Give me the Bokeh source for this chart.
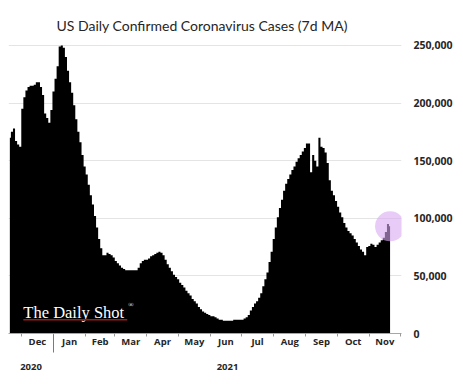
import pandas as pd
from bokeh.plotting import figure
from bokeh.models import (FixedTicker, LinearAxis, NumeralTickFormatter, Label,
                          BoxAnnotation, Range1d, ColumnDataSource)
from bokeh.embed import file_html
from bokeh.resources import INLINE

# ---- data (7-day MA of US daily confirmed cases, thousands, every 2 days) ----
start_date = "2020-11-20"
cases_k = [
    170, 175, 178, 167, 164, 162, 195, 205, 211, 214, 215, 215, 216, 218, 218, 214,
    207, 191, 187, 183, 194, 210, 221, 232, 249, 250, 248, 240, 228, 218, 209, 198,
    186, 175, 166, 155, 145, 138, 129, 120, 112, 102, 92, 82, 74, 68, 68, 70,
    69, 68, 66, 63, 61, 59, 57, 56, 55, 55, 55, 55, 55, 55, 57, 61,
    63, 64, 64, 65, 67, 68, 69, 70, 71, 70, 68, 64, 60, 57, 54, 51,
    49, 47, 44, 42, 40, 37, 35, 33, 30, 28, 26, 23, 21, 19, 18, 17,
    16, 15, 15, 14, 13, 12, 12, 11, 11, 11, 11, 11, 12, 12, 12, 12,
    12, 13, 14, 16, 20, 23, 26, 28, 31, 35, 41, 47, 53, 62, 71, 82,
    92, 101, 109, 116, 124, 130, 134, 138, 142, 145, 149, 152, 155, 158, 161, 165,
    165, 140, 155, 150, 145, 170, 162, 161, 157, 148, 133, 124, 120, 115, 110, 105,
    101, 96, 92, 89, 87, 85, 82, 79, 76, 73, 71, 68, 75, 76, 78, 77,
    75, 77, 79, 81, 83, 88, 95, 93,
]
month_starts = ["2020-12-01", "2021-01-01", "2021-02-01", "2021-03-01", "2021-04-01",
                "2021-05-01", "2021-06-01", "2021-07-01", "2021-08-01", "2021-09-01",
                "2021-10-01", "2021-11-01", "2021-12-01"]
month_labels = ["Dec", "Jan", "Feb", "Mar", "Apr", "May", "Jun", "Jul", "Aug",
                "Sep", "Oct", "Nov"]
year_labels = ["2020", "2021"]
y_ticks = [0, 50000, 100000, 150000, 200000, 250000]
title_text = "US Daily Confirmed Coronavirus Cases (7d MA)"


def ms(s):
    return float(pd.Timestamp(s).value // 10**6)


dates = pd.date_range(start_date, periods=len(cases_k), freq="2D")
cases = [v * 1000 for v in cases_k]
src = ColumnDataSource(dict(date=dates, cases=cases))

x0 = ms("2020-11-19") - 0.3 * 86400000
x1 = ms("2021-12-01") + 1.0 * 86400000

p = figure(width=455, height=376, output_backend="svg", toolbar_location=None,
           x_axis_type=None, y_axis_location="right",
           x_range=Range1d(x0, x1), y_range=Range1d(0, 254300),
           min_border_left=8, min_border_right=45, min_border_top=40,
           min_border_bottom=43, background_fill_color="white",
           border_fill_color="white")
p.outline_line_color = None

p.title.text = title_text
p.title.text_font = "Lato"
p.title.text_font_size = "14px"
p.title.text_font_style = "normal"
p.title.text_color = "#262626"
p.title.align = "left"
p.title.vertical_align = "top"
p.title.offset = 48
p.title.standoff = 10

# y axis (right)
p.yaxis.ticker = FixedTicker(ticks=y_ticks)
p.yaxis.formatter = NumeralTickFormatter(format="0,0")
p.yaxis.axis_line_color = None
p.yaxis.major_tick_line_color = None
p.yaxis.major_tick_out = 0
p.yaxis.minor_tick_line_color = None
p.yaxis.minor_tick_out = 0
p.yaxis.major_label_standoff = 12
p.yaxis.major_label_text_font = "Open Sans"
p.yaxis.major_label_text_font_size = "10.5px"
p.yaxis.major_label_text_font_style = "bold"
p.yaxis.major_label_text_color = "#262626"
p.ygrid.grid_line_color = "#e4e4e4"
p.xgrid.grid_line_color = None

# month axis
starts = [ms(s) for s in month_starts]
mids = [(a + b) / 2 for a, b in zip(starts[:-1], starts[1:])]
month_axis = LinearAxis(ticker=FixedTicker(ticks=mids, minor_ticks=starts),
                        major_label_overrides={m: l for m, l in zip(mids, month_labels)})
month_axis.major_tick_line_color = None
month_axis.major_tick_out = 3
month_axis.major_tick_in = 0
month_axis.minor_tick_line_color = "#9a9a9a"
month_axis.minor_tick_out = 3
month_axis.minor_tick_in = 0
month_axis.axis_line_color = "#a6a6a6"
month_axis.major_label_standoff = -2
month_axis.major_label_text_font = "Open Sans"
month_axis.major_label_text_font_size = "9.5px"
month_axis.major_label_text_font_style = "bold"
month_axis.major_label_text_color = "#262626"
p.add_layout(month_axis, "below")

# year axis
jan1 = starts[1]
year_pos = [(x0 + jan1) / 2, (jan1 + x1) / 2]
year_axis = LinearAxis(ticker=FixedTicker(ticks=year_pos, minor_ticks=[jan1]),
                       major_label_overrides={m: l for m, l in zip(year_pos, year_labels)})
year_axis.axis_line_color = None
year_axis.major_tick_line_color = None
year_axis.major_tick_out = 0
year_axis.major_tick_in = 0
year_axis.minor_tick_line_color = "#7a7a7a"
year_axis.minor_tick_in = 16
year_axis.minor_tick_out = 2
year_axis.major_label_standoff = 11
year_axis.major_label_text_font = "Open Sans"
year_axis.major_label_text_font_size = "9.5px"
year_axis.major_label_text_font_style = "bold"
year_axis.major_label_text_color = "#262626"
p.add_layout(year_axis, "below")

# bars (daily-style silhouette)
p.varea_step(x="date", y1=0, y2="cases", source=src, step_mode="center",
             fill_color="black")

# highlight on latest value
p.scatter(x=[dates[-1]], y=[cases[-1]], size=30, fill_color="#d9a8f0",
          fill_alpha=0.6, line_color=None)

# logo
p.add_layout(Label(x=ms("2020-12-03"), y=18500, text="The Daily Shot",
                   text_font="Liberation Serif", text_font_size="16.5px",
                   text_color="white", text_baseline="alphabetic"))
p.add_layout(Label(x=ms("2021-03-14"), y=25000, text="®",
                   text_font="Liberation Serif", text_font_size="7px",
                   text_color="white", text_baseline="alphabetic"))
p.add_layout(BoxAnnotation(left=ms("2020-12-03"), right=ms("2021-03-13"),
                           bottom=11300, top=12600, fill_color="#9e1c1c",
                           fill_alpha=1, line_color=None))

open("out.html", "w").write(file_html(p, INLINE))
